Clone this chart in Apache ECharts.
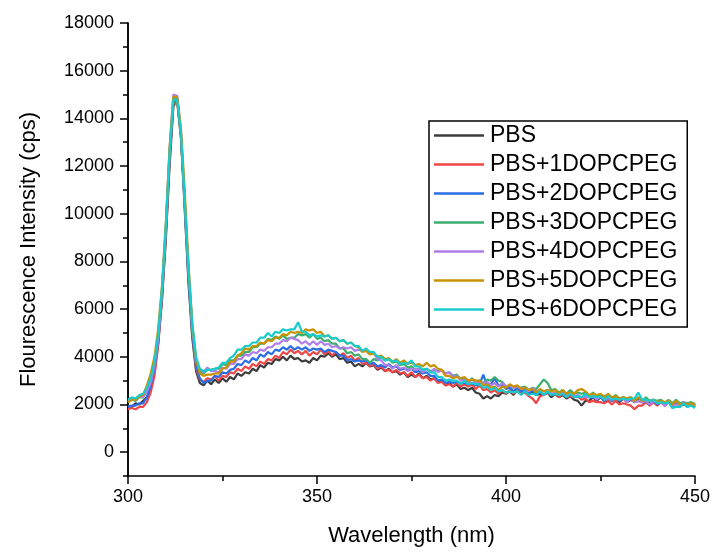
<!DOCTYPE html>
<html>
<head>
<meta charset="utf-8">
<title>Fluorescence spectra</title>
<script src="https://cdn.jsdelivr.net/npm/echarts@6/dist/echarts.min.js"></script>
<style>
  html, body { margin: 0; padding: 0; background: #fff; }
  #chart { width: 714px; height: 552px; }
</style>
</head>
<body>
<div id="chart"></div>
<script>
// Emission spectra, sampled every 1 nm from 300 to 450 nm
const wavelengths = Array.from({ length: 151 }, (_, i) => 300 + i);

const seriesNames = ['PBS', 'PBS+1DOPCPEG', 'PBS+2DOPCPEG', 'PBS+3DOPCPEG',
  'PBS+4DOPCPEG', 'PBS+5DOPCPEG', 'PBS+6DOPCPEG'];
const seriesColors = ['#3c3c3c', '#f04646', '#2a6ee6', '#3cae70',
  '#b07ee6', '#c89200', '#18cccc'];

const pbs = [
  1950, 1900, 2050, 2000, 2150, 2300, 2700, 3400, 4600, 6400,
  8900, 12000, 14500, 14800, 13300, 10200, 7100, 4800, 3400, 2900,
  2800, 3000, 2850, 3050, 2900, 3100, 2950, 3150, 3050, 3300,
  3200, 3350, 3300, 3500, 3400, 3650, 3550, 3750, 3700, 3900,
  3850, 4000, 3850, 4050, 3900, 3950, 3800, 3850, 3750, 3950,
  3850, 4050, 4000, 4150, 4000, 4100, 3900, 3950, 3750, 3800,
  3600, 3700, 3600, 3750, 3600, 3650, 3450, 3550, 3400, 3500,
  3350, 3400, 3250, 3350, 3150, 3250, 3150, 3300, 3100, 3200,
  3050, 3100, 2950, 3000, 2800, 2900, 2750, 2850, 2650, 2700,
  2600, 2700, 2500, 2450, 2250, 2350, 2250, 2400, 2350, 2500,
  2450, 2550, 2400, 2600, 2450, 2500, 2400, 2550, 2400, 2450,
  2400, 2500, 2300, 2450, 2300, 2400, 2250, 2350, 2200, 2150,
  1950, 2150, 2150, 2300, 2150, 2300, 2150, 2250, 2150, 2250,
  2100, 2250, 2100, 2200, 2100, 2250, 2100, 2150, 2050, 2150,
  2050, 2100, 2000, 2100, 1950, 2100, 1950, 2000, 1950, 2050,
  1900
];

const peg1 = [
  1800, 1850, 1800, 1900, 1900, 2100, 2500, 3200, 4500, 6500,
  9100, 12300, 14600, 14700, 13200, 10500, 7500, 5000, 3500, 3050,
  2950, 3100, 3050, 3200, 3000, 3200, 3150, 3350, 3300, 3500,
  3400, 3600, 3500, 3700, 3600, 3800, 3700, 3900, 3850, 4050,
  3950, 4200, 4100, 4300, 4150, 4250, 4100, 4250, 4050, 4200,
  4100, 4300, 4100, 4250, 4050, 4200, 4050, 4150, 3950, 4050,
  3850, 3950, 3700, 3750, 3600, 3700, 3500, 3600, 3400, 3450,
  3350, 3450, 3300, 3350, 3200, 3350, 3150, 3250, 3100, 3150,
  3000, 3100, 2900, 2950, 2800, 2850, 2750, 2900, 2750, 2850,
  2750, 2850, 2650, 2800, 2600, 2650, 2500, 2600, 2450, 2600,
  2450, 2600, 2450, 2600, 2450, 2500, 2350, 2250, 2050, 2350,
  2400, 2500, 2400, 2450, 2300, 2450, 2300, 2350, 2300, 2350,
  2200, 2250, 2100, 2150, 2100, 2100, 2050, 2150, 2000, 2150,
  2000, 2050, 2000, 1950, 1800, 1950, 1950, 2100, 1950, 2100,
  1950, 2100, 1950, 2150, 2000, 2050, 1900, 2050, 2000, 1950,
  2050
];

const peg2 = [
  1900, 1950, 1950, 2050, 2050, 2300, 2800, 3500, 4700, 6600,
  9200, 12400, 14800, 14900, 13300, 10400, 7300, 5000, 3600, 3100,
  2900, 3000, 3000, 3200, 3150, 3350, 3300, 3450, 3500, 3700,
  3650, 3850, 3750, 3950, 3850, 4100, 4000, 4200, 4100, 4300,
  4250, 4400, 4300, 4450, 4300, 4400, 4300, 4400, 4250, 4350,
  4300, 4350, 4200, 4300, 4250, 4200, 4050, 4050, 3850, 3900,
  3800, 3850, 3800, 3850, 3700, 3750, 3600, 3650, 3550, 3700,
  3550, 3600, 3450, 3500, 3450, 3500, 3350, 3400, 3300, 3350,
  3200, 3200, 3000, 3050, 2900, 2950, 2900, 2950, 2900, 2900,
  2850, 2900, 2800, 2850, 3250, 2750, 2850, 3100, 2800, 2800,
  2650, 2700, 2550, 2700, 2550, 2600, 2450, 2600, 2400, 2550,
  2400, 2550, 2400, 2450, 2400, 2450, 2300, 2450, 2300, 2350,
  2300, 2350, 2300, 2300, 2250, 2300, 2150, 2300, 2150, 2300,
  2150, 2300, 2100, 2250, 2100, 2150, 2100, 2150, 2000, 2150,
  2000, 2150, 1950, 2100, 1900, 2050, 2000, 2050, 1900, 2050,
  1950
];

const peg3 = [
  2100, 2200, 2150, 2300, 2300, 2600, 3000, 3700, 4900, 6700,
  9300, 12500, 14700, 14800, 13200, 10500, 7500, 5200, 3800, 3400,
  3300, 3450, 3450, 3500, 3500, 3700, 3650, 3850, 3850, 4050,
  4050, 4200, 4200, 4400, 4400, 4550, 4550, 4750, 4700, 4850,
  4750, 4900, 4750, 4800, 4800, 4950, 4900, 4950, 4800, 4950,
  4750, 4800, 4650, 4700, 4550, 4550, 4350, 4350, 4150, 4200,
  4050, 4100, 3900, 3900, 3750, 3900, 3850, 4000, 3850, 3900,
  3750, 3800, 3650, 3700, 3550, 3600, 3450, 3500, 3450, 3500,
  3400, 3450, 3400, 3450, 3300, 3350, 3200, 3250, 3050, 3100,
  2950, 3100, 2950, 3000, 2900, 3050, 3000, 3150, 3000, 2950,
  2750, 2800, 2700, 2750, 2700, 2750, 2600, 2700, 2650, 2850,
  3050, 2900, 2600, 2650, 2500, 2600, 2450, 2600, 2450, 2500,
  2450, 2500, 2350, 2500, 2350, 2400, 2350, 2400, 2250, 2400,
  2250, 2300, 2250, 2300, 2150, 2300, 2150, 2300, 2150, 2200,
  2150, 2200, 2050, 2200, 2050, 2200, 2050, 2100, 2050, 2100,
  2000
];

const peg4 = [
  2150, 2250, 2200, 2350, 2300, 2550, 2900, 3600, 4800, 6800,
  9400, 12700, 15000, 14950, 13500, 10600, 7700, 5300, 3800, 3500,
  3350, 3550, 3400, 3400, 3350, 3550, 3500, 3700, 3700, 3900,
  3900, 4100, 4050, 4200, 4150, 4300, 4250, 4400, 4400, 4550,
  4550, 4700, 4650, 4800, 4750, 4700, 4550, 4650, 4500, 4650,
  4500, 4650, 4500, 4550, 4400, 4450, 4350, 4400, 4350, 4400,
  4250, 4300, 4250, 4300, 4150, 4150, 3900, 3850, 3650, 3650,
  3500, 3650, 3500, 3550, 3400, 3500, 3450, 3500, 3350, 3500,
  3350, 3500, 3350, 3450, 3300, 3350, 3150, 3200, 3000, 3050,
  2900, 3050, 2900, 2950, 2900, 2950, 2800, 2900, 2750, 2900,
  2750, 2800, 2700, 2750, 2650, 2700, 2550, 2700, 2550, 2600,
  2550, 2600, 2450, 2500, 2450, 2500, 2350, 2500, 2350, 2400,
  2300, 2350, 2300, 2350, 2200, 2350, 2200, 2250, 2200, 2250,
  2200, 2250, 2100, 2250, 2100, 2150, 2100, 2150, 2000, 2150,
  2050, 2100, 1950, 2100, 1950, 2000, 1950, 2100, 1950, 2000,
  1900
];

const peg5 = [
  2100, 2200, 2200, 2350, 2400, 2800, 3300, 4000, 5200, 7000,
  9600, 12800, 14900, 14900, 13600, 11000, 7900, 5400, 3900, 3300,
  3200, 3250, 3250, 3300, 3300, 3500, 3550, 3800, 3800, 4050,
  4150, 4350, 4300, 4450, 4450, 4600, 4550, 4700, 4650, 4800,
  4800, 4950, 4900, 5050, 5000, 5050, 5000, 5150, 5100, 5150,
  5000, 5050, 4850, 4900, 4750, 4800, 4650, 4700, 4550, 4600,
  4450, 4400, 4200, 4250, 4100, 4150, 4000, 4050, 3900, 3950,
  3800, 3900, 3750, 3850, 3700, 3750, 3650, 3700, 3600, 3750,
  3600, 3650, 3500, 3450, 3200, 3200, 3100, 3150, 3100, 3150,
  3000, 3050, 3000, 3000, 2800, 2850, 2700, 2750, 2600, 2750,
  2700, 2850, 2750, 2800, 2650, 2700, 2600, 2650, 2500, 2650,
  2550, 2600, 2550, 2600, 2450, 2600, 2450, 2500, 2450, 2600,
  2650, 2550, 2400, 2450, 2400, 2450, 2300, 2450, 2300, 2350,
  2250, 2300, 2250, 2300, 2150, 2300, 2150, 2200, 2150, 2200,
  2100, 2150, 2100, 2150, 2000, 2150, 2000, 2050, 2000, 2050,
  1950
];

const peg6 = [
  2200, 2300, 2250, 2400, 2450, 2700, 3100, 3800, 5000, 6900,
  9500, 12600, 14800, 14800, 13400, 10600, 7700, 5400, 4000, 3500,
  3400, 3450, 3450, 3500, 3550, 3750, 3750, 3950, 4050, 4300,
  4300, 4450, 4450, 4600, 4600, 4800, 4800, 5000, 4850, 5050,
  5000, 5150, 5100, 5150, 5150, 5450, 5050, 5050, 4900, 4950,
  4850, 4900, 4850, 4900, 4750, 4800, 4650, 4700, 4550, 4600,
  4450, 4450, 4250, 4350, 4200, 4200, 4000, 4000, 3850, 3900,
  3800, 3850, 3700, 3750, 3700, 3850, 3600, 3600, 3450, 3500,
  3350, 3350, 3150, 3150, 3000, 3050, 3000, 3000, 2850, 3000,
  2850, 2900, 2850, 2850, 2700, 2750, 2600, 2700, 2550, 2600,
  2500, 2550, 2500, 2550, 2400, 2550, 2400, 2450, 2400, 2550,
  2400, 2550, 2400, 2450, 2400, 2450, 2300, 2450, 2300, 2350,
  2300, 2450, 2300, 2350, 2300, 2350, 2200, 2350, 2200, 2250,
  2200, 2250, 2200, 2250, 2250, 2500, 2200, 2200, 2150, 2200,
  2050, 2100, 2050, 2100, 1850, 1900, 1900, 2050, 1900, 1950,
  1850
];

const intensities = [pbs, peg1, peg2, peg3, peg4, peg5, peg6];

// Axis ticks: labelled majors every 2000 counts, unlabelled minors in between
const yMajorTicks = [0, 2000, 4000, 6000, 8000, 10000, 12000, 14000, 16000, 18000];
const yMinorTicks = [-1000, 1000, 3000, 5000, 7000, 9000, 11000, 13000, 15000, 17000];

const FONT = '"Liberation Sans", Arial, Helvetica, sans-serif';
const AXIS_COLOR = '#000';

const chart = echarts.init(document.getElementById('chart'), null, { renderer: 'canvas' });

const series = seriesNames.map((name, k) => ({
  name: name,
  type: 'line',
  xAxisIndex: 0,
  yAxisIndex: 0,
  showSymbol: false,
  symbol: 'none',
  smooth: false,
  color: seriesColors[k],
  lineStyle: { width: 2.2, color: seriesColors[k] },
  data: wavelengths.map((w, i) => [w, intensities[k][i]]),
  z: 2 + k
}));

const yBase = {
  type: 'value',
  min: -1000,
  max: 18000,
  interval: 1000,
  splitLine: { show: false },
  axisLine: { show: true, onZero: false, lineStyle: { color: AXIS_COLOR, width: 1.5 } }
};

chart.setOption({
  animation: false,
  backgroundColor: '#fff',
  textStyle: { fontFamily: FONT },
  grid: { left: 128, right: 19, top: 23, bottom: 74, containLabel: false },
  legend: {
    orient: 'vertical',
    left: 429,
    top: 121,
    data: seriesNames,
    icon: 'rect',
    itemWidth: 50,
    itemHeight: 2.5,
    itemGap: 6,
    padding: [3, 10, 6, 5],
    borderColor: '#000',
    borderWidth: 1.5,
    backgroundColor: '#fff',
    textStyle: { fontFamily: FONT, fontSize: 23, color: '#000', padding: [0, 0, 0, 1] }
  },
  xAxis: {
    type: 'value',
    min: 300,
    max: 450,
    interval: 50,
    name: 'Wavelength (nm)',
    nameLocation: 'middle',
    nameGap: 49,
    nameTextStyle: { fontFamily: FONT, fontSize: 22, color: '#000' },
    splitLine: { show: false },
    axisLine: { show: true, onZero: false, lineStyle: { color: AXIS_COLOR, width: 1.5 } },
    axisTick: { show: true, inside: false, length: 8, lineStyle: { color: AXIS_COLOR, width: 1.5 } },
    minorTick: { show: true, splitNumber: 2, length: 5, lineStyle: { color: AXIS_COLOR, width: 1.5 } },
    axisLabel: { fontFamily: FONT, fontSize: 18, color: '#000', margin: 12 }
  },
  yAxis: [
    Object.assign({}, yBase, {
      name: 'Flourescence Intensity (cps)',
      nameLocation: 'middle',
      nameGap: 88,
      nameTextStyle: { fontFamily: FONT, fontSize: 22, color: '#000' },
      axisTick: { show: true, inside: false, length: 8, customValues: yMajorTicks,
        lineStyle: { color: AXIS_COLOR, width: 1.5 } },
      axisLabel: { fontFamily: FONT, fontSize: 18, color: '#000', margin: 14,
        customValues: yMajorTicks, formatter: (v) => String(v) }
    }),
    Object.assign({}, yBase, {
      position: 'left',
      axisTick: { show: true, inside: false, length: 5, customValues: yMinorTicks,
        lineStyle: { color: AXIS_COLOR, width: 1.5 } },
      axisLabel: { show: false }
    })
  ],
  series: series
});
</script>
</body>
</html>
